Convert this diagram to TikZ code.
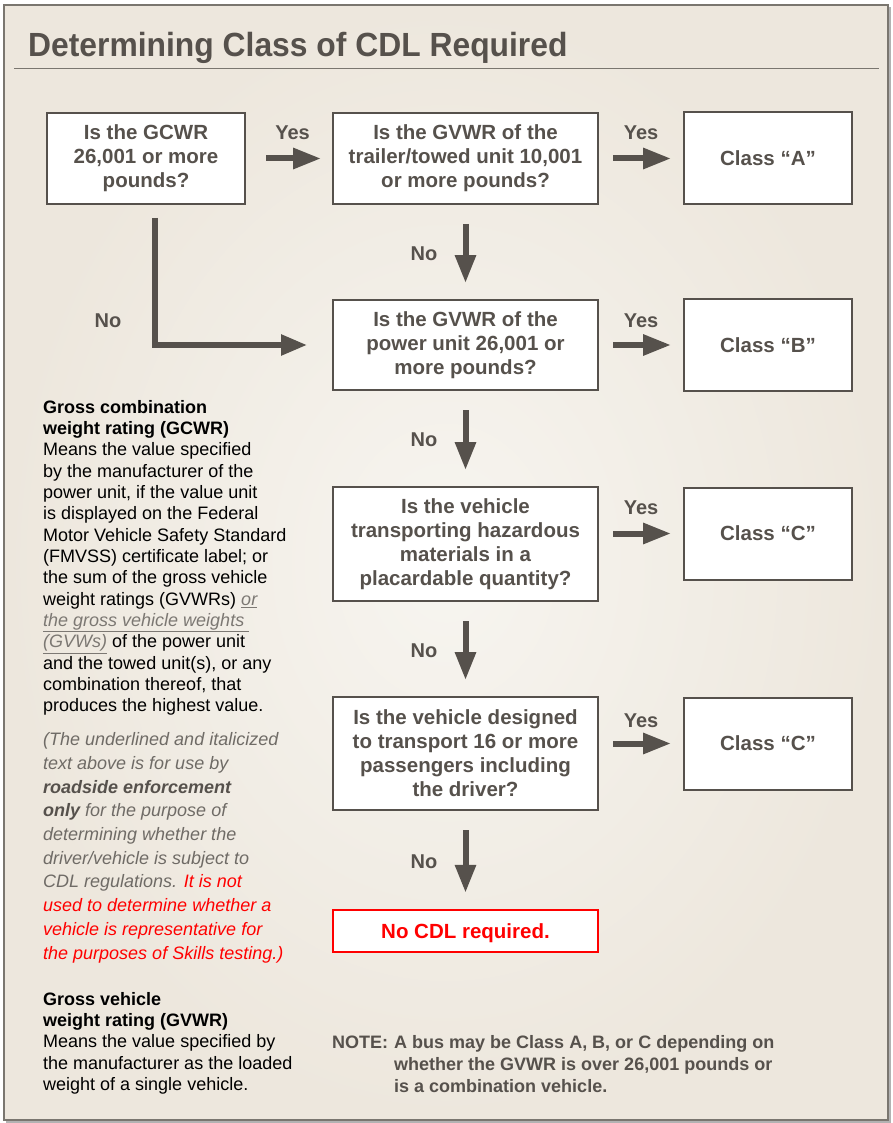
\documentclass[tikz,border=0pt]{standalone}
\usepackage{fontspec}
\setmainfont{Liberation Sans}
\newfontfamily\titlefont[FakeStretch=0.95]{Liberation Sans}
\usetikzlibrary{arrows.meta}
\definecolor{ink}{HTML}{56514C}
\definecolor{soft}{HTML}{6F6B66}
\definecolor{ulc}{HTML}{7C7873}
\definecolor{framec}{HTML}{7A766F}
\definecolor{bgout}{HTML}{EDE7DD}
\definecolor{bgin}{HTML}{F7F5F0}
\definecolor{alert}{HTML}{FF0000}
\begin{document}
\begin{tikzpicture}[x=1pt,y=-1pt,
  box/.style={draw=ink, line width=2pt, fill=white, align=center, inner sep=0pt,
    font=\bfseries\fontsize{20.5}{24}\selectfont, text=ink},
  qbox/.style={box, minimum width=265pt, execute at begin node={\rule{0pt}{20pt}}},
  cbox/.style={box, minimum width=168pt, minimum height=92pt},
  arr/.style={draw=ink, line width=6pt, -{Triangle[length=28pt,width=20pt]}},
  harr/.style={arr, shorten <=14pt, shorten >=12pt},
  varr/.style={arr, shorten <=19pt, shorten >=16pt},
  lbl/.style={font=\bfseries\fontsize{20}{24}\selectfont, text=ink, inner sep=0pt, anchor=base},
  para/.style={anchor=north west, align=left, inner sep=0pt, text=black,
    font=\fontsize{18}{21.33}\selectfont},
  ipara/.style={anchor=north west, align=left, inner sep=0pt, text=soft,
    font=\itshape\fontsize{18}{23.7}\selectfont},
  notetxt/.style={inner sep=0pt, text=ink, align=left, font=\bfseries\fontsize{18}{21.7}\selectfont}
]
\useasboundingbox (0,0) rectangle (892,1123);
\fill[white] (0,0) rectangle (892,1123);
\fill[black!30] (6,7) rectangle (891,1123);
\fill[bgout] (4,5) rectangle (888,1120);
\shade[inner color=bgin, outer color=bgout] (4,5) rectangle (888,1120);
\draw[framec, line width=2pt] (4,5) rectangle (888,1120);

% title
\node[anchor=base west, inner sep=0pt, text=ink,
  font=\titlefont\bfseries\fontsize{33.5}{36}\selectfont] (title) at (28,57) {Determining Class of CDL Required};
\draw[framec, line width=1.6pt] (14,68.5) -- (879,68.5);

% flow boxes
\node[box, minimum width=198pt, minimum height=91pt, execute at begin node={\rule{0pt}{20pt}}] (q1) at (146,158.5) {Is the GCWR\\26,001 or more\\pounds?};
\node[qbox, minimum height=91pt] (q2) at (465.5,158.5) {Is the GVWR of the\\trailer/towed unit 10,001\\or more pounds?};
\node[cbox] (ca) at (768,158.5) {Class “A”};
\node[qbox, minimum height=90pt] (q3) at (465.5,345) {Is the GVWR of the\\power unit 26,001 or\\more pounds?};
\node[cbox] (cb) at (768,345) {Class “B”};
\node[qbox, minimum height=114pt] (q4) at (465.5,544) {Is the vehicle\\transporting hazardous\\materials in a\\placardable quantity?};
\node[cbox] (cc1) at (768,533.5) {Class “C”};
\node[qbox, minimum height=113pt] (q5) at (465.5,753.5) {Is the vehicle designed\\to transport 16 or more\\passengers including\\the driver?};
\node[cbox] (cc2) at (768,743.5) {Class “C”};
\node[qbox, minimum height=42pt, draw=alert, text=alert, line width=2.5pt] (nocdl) at (465.5,931) {No CDL required.};

% connectors
\draw[arr, shorten <=20pt, shorten >=11pt] (q1) -- (q2);
\draw[harr] (q2) -- (ca);
\draw[harr] (q3) -- (cb);
\draw[harr] (q4.east |- cc1) -- (cc1);
\draw[harr] (q5.east |- cc2) -- (cc2);
\draw[varr] (q2) -- (q3);
\draw[varr] (q3) -- (q4);
\draw[varr] (q4) -- (q5);
\draw[varr] (q5) -- (nocdl);
\coordinate (lx) at (155,0);
\draw[draw=ink, line width=5.5pt, -{Triangle[length=26pt,width=20pt]}, shorten <=13pt, shorten >=25pt]
  (q1.south -| lx) |- (q3.west);

% labels
\node[lbl] (y1) at (292.5,140) {Yes};
\node[lbl] (y2) at (641,140) {Yes};
\node[lbl] (y3) at (641,327) {Yes};
\node[lbl] (y4) at (641,514) {Yes};
\node[lbl] (y5) at (641,727) {Yes};
\node[lbl] (n1) at (424,260) {No};
\node[lbl] (n0) at (108,327) {No};
\node[lbl] (n2) at (424,446) {No};
\node[lbl] (n3) at (424,657) {No};
\node[lbl] (n4) at (424,868) {No};

% left definitions
\node[para] (gcwr) at (43,400) {\textbf{Gross combination}\\
\textbf{weight rating (GCWR)}\\
Means the value specified\\
by the manufacturer of the\\
power unit, if the value unit\\
is displayed on the Federal\\
Motor Vehicle Safety Standard\\
(FMVSS) certificate label; or\\
the sum of the gross vehicle\\
weight ratings (GVWRs) {\color{ulc}\itshape\underline{or}}\\
{\color{ulc}\itshape\underline{the gross vehicle weights\ }}\\
{\color{ulc}\itshape\underline{(GVWs)}} of the power unit\\
and the towed unit(s), or any\\
combination thereof, that\\
produces the highest value.};

\node[ipara] (remark) at (43,732.5) {(The underlined and italicized\\
text above is for use by\\
{\color{ink}\bfseries roadside enforcement}\\
{\color{ink}\bfseries only} for the purpose of\\
determining whether the\\
driver/vehicle is subject to\\
CDL regulations. {\color{alert}It is not}\\
{\color{alert}used to determine whether a}\\
{\color{alert}vehicle is representative for}\\
{\color{alert}the purposes of Skills testing.)}};

\node[para] (gvwr) at (43,992) {\textbf{Gross vehicle}\\
\textbf{weight rating (GVWR)}\\
Means the value specified by\\
the manufacturer as the loaded\\
weight of a single vehicle.};

% note
\node[notetxt, anchor=north west] (notelbl) at (332,1035.5) {NOTE:};
\node[notetxt, anchor=north west] (note) at (394,1035.5) {A bus may be Class A, B, or C depending on\\
whether the GVWR is over 26,001 pounds or\\
is a combination vehicle.};
\end{tikzpicture}
\end{document}
